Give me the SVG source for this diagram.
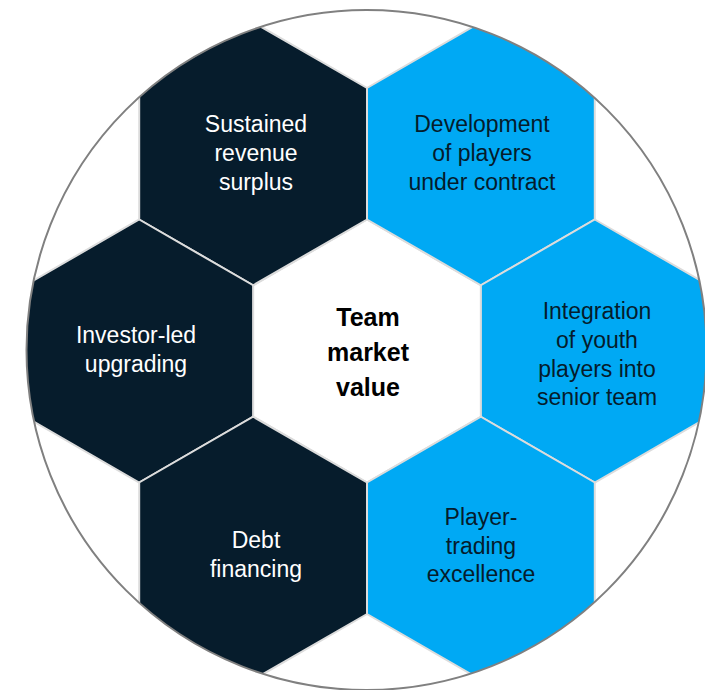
<svg xmlns="http://www.w3.org/2000/svg" width="705" height="690" viewBox="0 0 705 690">
<style>
.dark{fill:#061c2c;stroke:#dcdcdc;stroke-width:2}
.blue{fill:#00a9f4;stroke:#dcdcdc;stroke-width:2}
.white{fill:#ffffff;stroke:#dcdcdc;stroke-width:2}
text{font-family:"Liberation Sans",Arial,sans-serif;font-size:23px;text-anchor:middle}
.lt{fill:#ffffff}
.dk{fill:#051c2c}
.ctr{fill:#000000;font-weight:bold;font-size:25px}
</style>
<defs>
<clipPath id="circ"><circle cx="366.5" cy="350" r="340"/></clipPath>
</defs>
<rect width="705" height="690" fill="#ffffff"/>
<g clip-path="url(#circ)">
<g id="node-center"><polygon class="white" points="367,219.5 480.9,285.25 480.9,416.75 367,482.5 253.1,416.75 253.1,285.25"/></g>
<g id="node-sustained"><polygon class="dark" points="253.1,22.25 367,88 367,219.5 253.1,285.25 139.2,219.5 139.2,88"/></g>
<g id="node-development"><polygon class="blue" points="480.9,22.25 594.8,88 594.8,219.5 480.9,285.25 367,219.5 367,88"/></g>
<g id="node-investor"><polygon class="dark" points="139.2,219.5 253.1,285.25 253.1,416.75 139.2,482.5 25.3,416.75 25.3,285.25"/></g>
<g id="node-integration"><polygon class="blue" points="594.8,219.5 708.7,285.25 708.7,416.75 594.8,482.5 480.9,416.75 480.9,285.25"/></g>
<g id="node-debt"><polygon class="dark" points="253.1,416.75 367,482.5 367,614 253.1,679.75 139.2,614 139.2,482.5"/></g>
<g id="node-player"><polygon class="blue" points="480.9,416.75 594.8,482.5 594.8,614 480.9,679.75 367,614 367,482.5"/></g>
</g>
<g id="connectors"></g>
<circle cx="366.5" cy="350" r="340" fill="none" stroke="#808080" stroke-width="2"/>
<g id="labels">
<text class="lt" x="256" y="132">Sustained</text>
<text class="lt" x="256" y="161">revenue</text>
<text class="lt" x="256" y="190">surplus</text>
<text class="dk" x="482" y="132">Development</text>
<text class="dk" x="482" y="161">of players</text>
<text class="dk" x="482" y="190">under contract</text>
<text class="lt" x="136" y="343">Investor-led</text>
<text class="lt" x="136" y="372">upgrading</text>
<text class="ctr" x="368" y="326">Team</text>
<text class="ctr" x="368" y="361">market</text>
<text class="ctr" x="368" y="396">value</text>
<text class="dk" x="597" y="319">Integration</text>
<text class="dk" x="597" y="348">of youth</text>
<text class="dk" x="597" y="377">players into</text>
<text class="dk" x="597" y="405">senior team</text>
<text class="lt" x="256" y="548">Debt</text>
<text class="lt" x="256" y="577">financing</text>
<text class="dk" x="481" y="525">Player-</text>
<text class="dk" x="481" y="554">trading</text>
<text class="dk" x="481" y="582">excellence</text>
</g>
</svg>
